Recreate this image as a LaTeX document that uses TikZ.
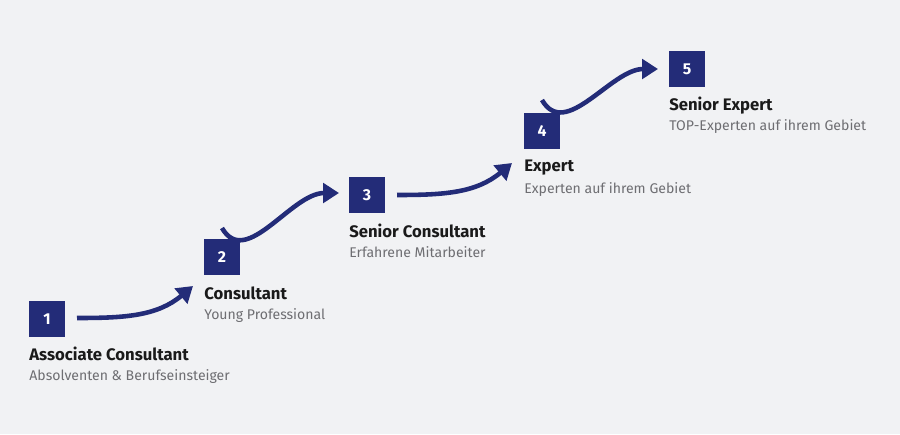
\documentclass[tikz,border=0pt]{standalone}
\usepackage{fontspec}
\setmainfont{Fira Sans}
\usetikzlibrary{arrows.meta}
\usetikzlibrary{positioning}
\definecolor{navy}{HTML}{232C78}
\definecolor{bggray}{HTML}{F1F2F4}
\definecolor{subgray}{HTML}{6E6E72}
\definecolor{titleblack}{HTML}{1A1A1A}
\tikzset{
  stepbox/.style={fill=navy, minimum size=0.72cm, inner sep=0pt, text=white, font=\fontsize{9}{10}\selectfont\bfseries},
  title/.style={anchor=north west, inner sep=0pt, text=titleblack, font=\fontsize{9.5}{11}\selectfont\bfseries},
  subtitle/.style={anchor=north west, inner sep=0pt, text=subgray, font=\fontsize{8}{10}\selectfont},
  arr/.style={draw=navy, line width=2.6pt, -{Triangle[length=9pt,width=11pt]}}
}
\begin{document}
\begin{tikzpicture}[x=0.02cm,y=-0.02cm]
	\fill[bggray] (0,0) rectangle (900,434);
	\useasboundingbox (0,0) rectangle (900,434);

	% steps
	\node[stepbox] (b1) at (47,319) {1};
	\node[stepbox] (b2) at (222,257) {2};
	\node[stepbox] (b3) at (367,195) {3};
	\node[stepbox] (b4) at (542,131) {4};
	\node[stepbox] (b5) at (687,69) {5};

	% labels
	\node[title] (t1) at (29,347) {Associate Consultant};
	\node[subtitle] (s1) at (29,369) {Absolventen \& Berufseinsteiger};
	\node[title] (t2) at (204,286) {Consultant};
	\node[subtitle] (s2) at (204,308) {Young Professional};
	\node[title] (t3) at (349,224) {Senior Consultant};
	\node[subtitle] (s3) at (349,246) {Erfahrene Mitarbeiter};
	\node[title] (t4) at (524,160) {Expert};
	\node[subtitle] (s4) at (524,182) {Experten auf ihrem Gebiet};
	\node[title] (t5) at (669,97) {Senior Expert};
	\node[subtitle] (s5) at (669,119) {TOP-Experten auf ihrem Gebiet};

	% arrows
	\coordinate (a1) at (77,318);  \coordinate (e1) at (193,286);
	\coordinate (a2) at (222,228); \coordinate (e2) at (339,193);
	\coordinate (a3) at (397,195); \coordinate (e3) at (512,163);
	\coordinate (a4) at (542,100); \coordinate (e4) at (658,69);
	\draw[arr] (a1) to[out=0,in=220] (e1);
	\draw[arr] (a2) to[out=-60,in=180] (e2);
	\draw[arr] (a3) to[out=0,in=220] (e3);
	\draw[arr] (a4) to[out=-60,in=180] (e4);
\end{tikzpicture}
\end{document}
